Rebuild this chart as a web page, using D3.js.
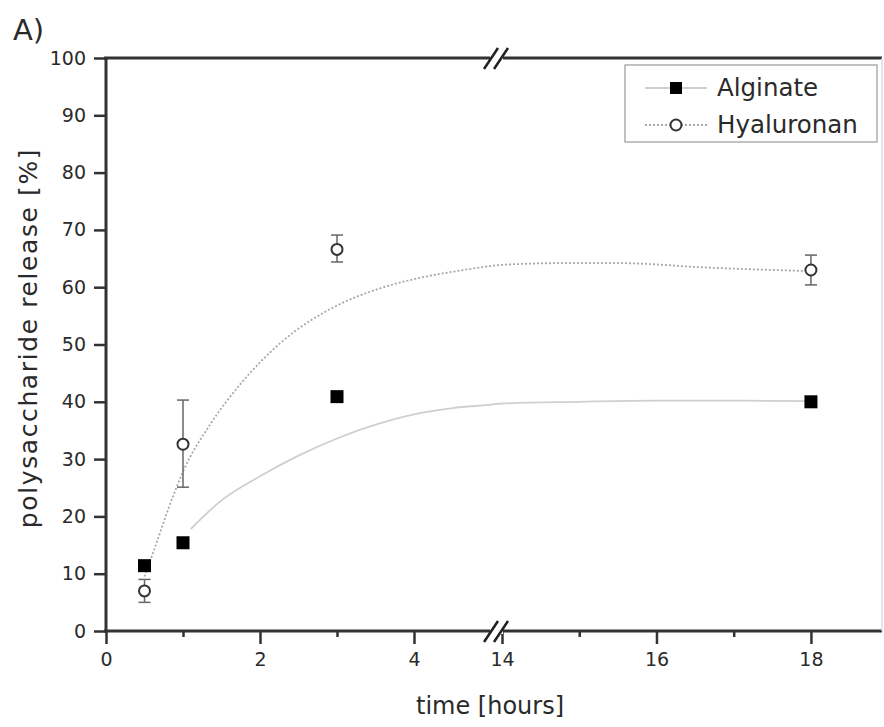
<!DOCTYPE html>
<html>
<head>
<meta charset="utf-8">
<script src="https://cdn.jsdelivr.net/npm/d3@7"></script>
<style>
  body { margin: 0; background: #fff; }
  text { font-family: "DejaVu Sans", sans-serif; fill: #2a2a2a; }
</style>
</head>
<body>
<div id="graph"></div>
<script>
// measured values
var times = [0.5, 1, 3, 18];
var alginate = [11.4, 15.4, 40.9, 40.0];
var hyaluronan = [7.0, 32.6, 66.6, 63.0];
var hyalErrLow = [5.0, 25.1, 64.4, 60.4];
var hyalErrHigh = [9.0, 40.3, 69.1, 65.6];

// fit curves, points
var alginateFitX = [1.1, 1.5, 2.0, 2.5, 3.0, 3.5, 4.0, 4.5, 5.0, 14, 15, 16, 17, 18];
var alginateFitY = [17.8, 22.8, 27.0, 30.6, 33.6, 36.0, 37.8, 38.9, 39.5, 39.7, 40.0, 40.2, 40.2, 40.1];
var hyalFitX = [0.5, 0.61, 0.87, 1.0, 1.35, 1.74, 2.26, 3.0, 3.56, 4.0, 4.69, 5.0, 14, 14.8, 15.5, 16.7, 18];
var hyalFitY = [9.5, 13.6, 23.5, 27.8, 36.0, 43.0, 50.2, 56.8, 59.8, 61.4, 63.1, 63.7, 63.9, 64.2, 64.2, 63.4, 62.8];

var yTicks = [0, 10, 20, 30, 40, 50, 60, 70, 80, 90, 100];
var xTicksLeft = [0, 2, 4];
var xMinorLeft = [1, 3];
var xTicksRight = [14, 16, 18];
var xMinorRight = [15, 17];

var W = 884, H = 727;
var pLeft = 106, pRight = 882, pTop = 58, pBottom = 631;

var xL = d3.scaleLinear().domain([0, 5]).range([pLeft, 491]);
var xR = d3.scaleLinear().domain([14, 18.92]).range([502, pRight]);
function xPos(t) { return t < 10 ? xL(t) : xR(t); }
var y = d3.scaleLinear().domain([0, 100]).range([pBottom, pTop]);

var svg = d3.select("#graph").append("svg")
    .attr("width", W)
    .attr("height", H);

var axisColor = "#333";

// y axis
var yAxis = d3.axisLeft(y).tickValues(yTicks).tickSize(12).tickPadding(8);
var gy = svg.append("g")
    .attr("transform", "translate(" + pLeft + ",0)")
    .call(yAxis);
gy.select(".domain").remove();
gy.selectAll("line").attr("stroke", axisColor).attr("stroke-width", 2.5);
gy.selectAll("text").style("font-size", "19px").style("font-family", "DejaVu Sans").attr("fill", "#2a2a2a");

// x axes (two segments)
function xAxisSeg(scale, major, minor) {
    var g = svg.append("g").attr("transform", "translate(0," + pBottom + ")");
    g.call(d3.axisBottom(scale).tickValues(major).tickSize(13).tickPadding(9).tickFormat(d3.format("d")));
    g.select(".domain").remove();
    g.selectAll("line").attr("stroke", axisColor).attr("stroke-width", 2.5);
    g.selectAll("text").style("font-size", "19px").style("font-family", "DejaVu Sans").attr("fill", "#2a2a2a");
    var m = svg.append("g").attr("transform", "translate(0," + pBottom + ")");
    m.call(d3.axisBottom(scale).tickValues(minor).tickSize(6).tickFormat(""));
    m.select(".domain").remove();
    m.selectAll("line").attr("stroke", axisColor).attr("stroke-width", 2.5);
}
xAxisSeg(xL, xTicksLeft, xMinorLeft);
xAxisSeg(xR, xTicksRight, xMinorRight);

// frame
var frame = svg.append("g").attr("stroke", axisColor).attr("stroke-width", 3).attr("fill", "none");
frame.append("line").attr("x1", pLeft).attr("x2", pLeft).attr("y1", pTop - 1).attr("y2", pBottom + 1);
frame.append("line").attr("x1", pLeft - 2).attr("x2", pRight).attr("y1", pBottom).attr("y2", pBottom);
frame.append("line").attr("x1", pLeft - 2).attr("x2", pRight).attr("y1", pTop).attr("y2", pTop);
frame.append("line").attr("x1", pRight).attr("x2", pRight).attr("y1", pTop).attr("y2", pBottom)
    .attr("stroke", "#ddd").attr("stroke-width", 1.5);

// break marks
[pTop, pBottom].forEach(function(yy) {
    svg.append("rect").attr("x", 490).attr("y", yy - 3).attr("width", 13).attr("height", 6).attr("fill", "#fff");
    [489, 499].forEach(function(bx) {
        svg.append("line")
            .attr("x1", bx - 5).attr("y1", yy + 11)
            .attr("x2", bx + 9).attr("y2", yy - 10)
            .attr("stroke", "#222").attr("stroke-width", 2.5);
    });
});

// fit curves
var line = d3.line().curve(d3.curveMonotoneX)
    .x(function(d) { return xPos(d[0]); })
    .y(function(d) { return y(d[1]); });

svg.append("path")
    .datum(d3.zip(alginateFitX, alginateFitY))
    .attr("d", line)
    .attr("fill", "none")
    .attr("stroke", "#cfcfcf")
    .attr("stroke-width", 1.8);

svg.append("path")
    .datum(d3.zip(hyalFitX, hyalFitY))
    .attr("d", line)
    .attr("fill", "none")
    .attr("stroke", "#a8a8a8")
    .attr("stroke-width", 1.8)
    .attr("stroke-dasharray", "2,2");

// error bars
var err = svg.append("g").attr("stroke", "#666").attr("stroke-width", 1.5);
times.forEach(function(t, i) {
    var cx = xPos(t);
    err.append("line").attr("x1", cx).attr("x2", cx).attr("y1", y(hyalErrLow[i])).attr("y2", y(hyalErrHigh[i]));
    err.append("line").attr("x1", cx - 6).attr("x2", cx + 6).attr("y1", y(hyalErrLow[i])).attr("y2", y(hyalErrLow[i]));
    err.append("line").attr("x1", cx - 6).attr("x2", cx + 6).attr("y1", y(hyalErrHigh[i])).attr("y2", y(hyalErrHigh[i]));
});

// alginate squares
svg.selectAll(".alg")
    .data(d3.zip(times, alginate))
    .enter().append("rect")
    .attr("class", "alg")
    .attr("x", function(d) { return xPos(d[0]) - 6.5; })
    .attr("y", function(d) { return y(d[1]) - 6.5; })
    .attr("width", 13)
    .attr("height", 13)
    .attr("fill", "#000");

// hyaluronan circles
svg.selectAll(".hya")
    .data(d3.zip(times, hyaluronan))
    .enter().append("circle")
    .attr("class", "hya")
    .attr("cx", function(d) { return xPos(d[0]); })
    .attr("cy", function(d) { return y(d[1]); })
    .attr("r", 5.5)
    .attr("fill", "#fff")
    .attr("stroke", "#333")
    .attr("stroke-width", 2);

// legend
var lg = svg.append("g");
lg.append("rect").attr("x", 625).attr("y", 65).attr("width", 252).attr("height", 77)
    .attr("fill", "#fff").attr("stroke", "#999").attr("stroke-width", 1.2);
lg.append("line").attr("x1", 645).attr("x2", 707).attr("y1", 88).attr("y2", 88)
    .attr("stroke", "#cfcfcf").attr("stroke-width", 1.8);
lg.append("rect").attr("x", 670).attr("y", 82).attr("width", 12).attr("height", 12).attr("fill", "#000");
lg.append("line").attr("x1", 645).attr("x2", 707).attr("y1", 125).attr("y2", 125)
    .attr("stroke", "#a8a8a8").attr("stroke-width", 1.8).attr("stroke-dasharray", "2,2");
lg.append("circle").attr("cx", 676).attr("cy", 125).attr("r", 5.5)
    .attr("fill", "#fff").attr("stroke", "#333").attr("stroke-width", 2);
lg.append("text").attr("x", 717).attr("y", 96).style("font-size", "24.5px").text("Alginate");
lg.append("text").attr("x", 717).attr("y", 133).style("font-size", "24.5px").text("Hyaluronan");

// titles
svg.append("text").attr("x", 490).attr("y", 714).attr("text-anchor", "middle")
    .style("font-size", "24px").text("time [hours]");
svg.append("text")
    .attr("transform", "translate(37,338) rotate(-90)")
    .attr("text-anchor", "middle")
    .style("font-size", "25px")
    .style("letter-spacing", "1.6px")
    .text("polysaccharide release [%]");
svg.append("text").attr("x", 13).attr("y", 40).style("font-size", "29px").text("A)");
</script>
</body>
</html>
